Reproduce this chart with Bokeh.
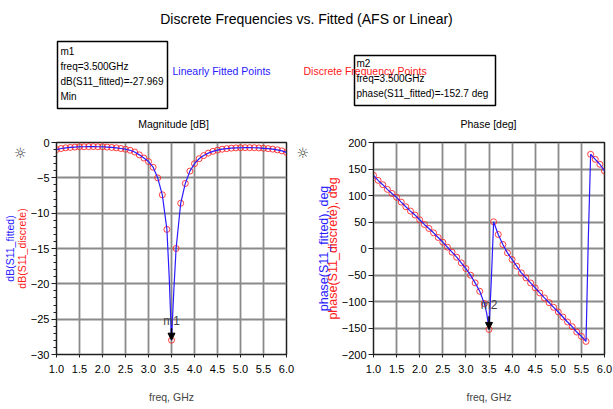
from bokeh.plotting import figure
from bokeh.layouts import column, row
from bokeh.models import (LinearAxis, FixedTicker, Range1d, Label, Arrow,
                          NormalHead, PrintfTickFormatter)
from bokeh.embed import file_html
from bokeh.resources import INLINE

# ---------------- data ----------------
freq = [1.0, 1.1, 1.2, 1.3, 1.4, 1.5, 1.6, 1.7, 1.8, 1.9,
        2.0, 2.1, 2.2, 2.3, 2.4, 2.5, 2.6, 2.7, 2.8, 2.9,
        3.0, 3.1, 3.2, 3.3, 3.4, 3.5, 3.6, 3.7, 3.8, 3.9,
        4.0, 4.1, 4.2, 4.3, 4.4, 4.5, 4.6, 4.7, 4.8, 4.9,
        5.0, 5.1, 5.2, 5.3, 5.4, 5.5, 5.6, 5.7, 5.8, 5.9, 6.0]

mag_db = [-1.0, -0.85, -0.75, -0.7, -0.65, -0.6, -0.6, -0.58, -0.58, -0.6,
          -0.6, -0.65, -0.7, -0.75, -0.85, -0.95, -1.1, -1.35, -1.75, -2.2,
          -2.7, -3.5, -5.0, -7.4, -12.3, -27.969, -15.0, -8.6, -5.8, -4.05,
          -3.0, -2.3, -1.85, -1.5, -1.25, -1.08, -0.95, -0.87, -0.8, -0.76,
          -0.74, -0.73, -0.73, -0.74, -0.77, -0.82, -0.87, -0.94, -1.04, -1.18, -1.4]

phase_deg = [138.0, 128.6, 120.4, 111.6, 103.9, 96.5, 87.6, 78.8, 70.6, 63.1,
             54.2, 45.4, 37.8, 29.6, 20.8, 11.9, 2.5, -6.9, -16.4, -27.1,
             -37.8, -50.4, -64.9, -80.7, -104.0, -152.7, 50.4, 26.5, 7.6, -8.2,
             -20.8, -33.4, -46.0, -55.5, -65.0, -74.4, -83.9, -93.3, -102.1, -111.0,
             -119.8, -129.3, -138.7, -147.5, -157.6, -165.8, -175.3, 177.8, 168.3, 158.9, 146.3]

# extra points of the fitted (dense) curves
mag_fit_extra_freq = [3.45, 3.55]
mag_fit_extra = [-19.0, -21.0]
phase_fit_extra_freq = [3.45, 3.55, 5.65]
phase_fit_extra = [-122.0, -60.0, 20.0]

x_ticks = [1.0, 1.5, 2.0, 2.5, 3.0, 3.5, 4.0, 4.5, 5.0, 5.5, 6.0]
mag_ticks = [0, -5, -10, -15, -20, -25, -30]
phase_ticks = [200, 150, 100, 50, 0, -50, -100, -150, -200]

marker_freq = 3.5
m1_value = -27.969
m2_value = -152.7

FONT = "Liberation Sans"
BLUE = "#2a1aff"
RED = "#ff2020"
SUN = "\u263c"
SUN_AT = -1.5   # vertical placement of the sun icons on the dB scale

fit_mag = sorted(zip(freq + mag_fit_extra_freq, mag_db + mag_fit_extra))
fit_phase = sorted(zip(freq + phase_fit_extra_freq, phase_deg + phase_fit_extra))

# ---------------- header ----------------
W, HH = 613, 130
hdr = figure(width=W, height=HH, x_range=Range1d(0, W), y_range=Range1d(HH, 0),
             output_backend="svg", toolbar_location=None, min_border=0)
hdr.axis.visible = False
hdr.grid.visible = False
hdr.outline_line_color = None


def htext(x, y, t, size="10px", color="black", align="left"):
    hdr.add_layout(Label(x=x, y=y, text=t, text_font=FONT, text_font_size=size,
                         text_color=color, text_align=align, text_baseline="middle"))


htext(306, 18, "Discrete Frequencies vs. Fitted (AFS or Linear)", size="14px", align="center")
hdr.quad(left=[57], right=[167], top=[41], bottom=[108], fill_color=None,
         line_color="black", line_width=1.5)
for yy, t in zip([51, 66, 81, 96], ["m1", "freq=3.500GHz", "dB(S11_fitted)=-27.969", "Min"]):
    htext(60, yy, t)
htext(172, 70, "Linearly Fitted Points", size="10.5px", color=BLUE)
hdr.quad(left=[354], right=[495], top=[55], bottom=[105], fill_color=None,
         line_color="black", line_width=1.5)
htext(303, 70, "Discrete Frequency Points", size="10.5px", color=RED)
for yy, t in zip([63, 78, 93], ["m2", "freq=3.500GHz", "phase(S11_fitted)=-152.7 deg"]):
    htext(356, yy, t)
htext(173, 123, "Magnitude [dB]", size="10.5px", align="center")
htext(488, 123, "Phase [deg]", size="10.5px", align="center")


# ---------------- plots ----------------
def make_plot(width, left_border, right_border, yr, yticks, minor, lab_fit, lab_disc,
              fx, fy, dx, dy, lab_size, inner_standoff, outer_standoff, sun=False):
    p = figure(width=width, height=279, x_range=Range1d(1, 6), y_range=Range1d(*yr),
               output_backend="svg", toolbar_location=None,
               min_border_left=left_border, min_border_right=right_border,
               min_border_top=12, min_border_bottom=55)
    p.xaxis.ticker = FixedTicker(ticks=x_ticks)
    p.xaxis.formatter = PrintfTickFormatter(format="%.1f")
    p.yaxis.ticker = FixedTicker(ticks=yticks, minor_ticks=minor)
    for ax in (p.xaxis[0], p.yaxis[0]):
        ax.major_label_text_font = FONT
        ax.major_label_text_font_size = "11px"
        ax.major_label_text_color = "black"
        ax.axis_line_color = "#202020"
        ax.major_tick_line_color = "#202020"
        ax.minor_tick_line_color = "#202020"
        ax.major_tick_in = 0
        ax.minor_tick_in = 0
        ax.minor_tick_out = 3
        ax.major_tick_out = 5
        ax.major_label_standoff = 2
    p.xaxis.major_tick_out = 3
    p.xaxis.major_label_standoff = 7
    p.xaxis.axis_label = "freq, GHz"
    p.xaxis.axis_label_text_font = FONT
    p.xaxis.axis_label_text_font_size = "10.5px"
    p.xaxis.axis_label_text_font_style = "normal"
    p.xaxis.axis_label_standoff = 15
    ya = p.yaxis[0]
    ya.axis_label = lab_disc
    ya.axis_label_text_color = RED
    ya.axis_label_text_font = FONT
    ya.axis_label_text_font_size = lab_size
    ya.axis_label_text_font_style = "normal"
    ya.axis_label_standoff = inner_standoff
    outer = LinearAxis(ticker=FixedTicker(ticks=[SUN_AT] if sun else []),
                       major_label_overrides={SUN_AT: SUN} if sun else {},
                       major_label_text_font="DejaVu Sans", major_label_text_font_size="14px",
                       major_label_text_color="#333333", major_label_orientation="horizontal",
                       axis_label=lab_fit,
                       axis_line_color=None, major_tick_line_color=None,
                       minor_tick_line_color=None, major_tick_out=0, minor_tick_out=0,
                       major_tick_in=0, minor_tick_in=0,
                       major_label_standoff=-14 if sun else 0,
                       axis_label_standoff=outer_standoff,
                       axis_label_text_color=BLUE, axis_label_text_font=FONT,
                       axis_label_text_font_size=lab_size,
                       axis_label_text_font_style="normal")
    p.add_layout(outer, "left")
    p.grid.grid_line_color = "#8a8a8a"
    p.grid.grid_line_width = 1.8
    p.outline_line_color = "#202020"
    p.outline_line_width = 1.5
    p.scatter(dx, dy, marker="circle", size=6, fill_color=None,
              line_color=RED, line_width=1, line_alpha=0.85)
    p.line(fx, fy, line_color=BLUE, line_width=1.2)
    return p


# left border of the magnitude plot is sized by its axes (tight layout)
p1 = make_plot(312, 0, 23, (-30, 0), mag_ticks, [v for v in range(0, -31, -1)],
               "dB(S11_fitted)", "dB(S11_discrete)",
               [a for a, b in fit_mag], [b for a, b in fit_mag], freq, mag_db,
               "10.5px", 0, -5, sun=True)
p2 = make_plot(301, 61, 9, (-200, 200), phase_ticks, [],
               "phase(S11_fitted), deg", "phase(S11_discrete), deg",
               [a for a, b in fit_phase], [b for a, b in fit_phase], freq, phase_deg,
               "12.5px", -1, -8)

# sun icon right of the magnitude plot, drawn as a tick label of a bare right axis
p1.add_layout(LinearAxis(ticker=FixedTicker(ticks=[SUN_AT]), major_label_overrides={SUN_AT: SUN},
                         major_label_text_font="DejaVu Sans", major_label_text_font_size="14px",
                         major_label_text_color="#333333", axis_line_color=None,
                         major_tick_line_color=None, minor_tick_line_color=None,
                         major_tick_out=0, major_tick_in=0, minor_tick_out=0, minor_tick_in=0,
                         major_label_standoff=10), "right")

# markers m1 / m2
p1.add_layout(Arrow(end=NormalHead(size=7, fill_color="black", line_color="black"),
                    x_start=marker_freq, y_start=-26.3, x_end=marker_freq, y_end=m1_value,
                    line_color="black", line_width=1.5))
p1.add_layout(Label(x=marker_freq, y=-25.3, text="m1", text_font=FONT, text_font_size="12px",
                    text_align="center", text_baseline="middle"))
p2.add_layout(Arrow(end=NormalHead(size=7, fill_color="black", line_color="black"),
                    x_start=marker_freq, y_start=-128, x_end=marker_freq, y_end=m2_value,
                    line_color="black", line_width=1.5))
p2.add_layout(Label(x=marker_freq, y=-107, text="m2", text_font=FONT, text_font_size="12px",
                    text_align="center", text_baseline="middle"))

layout = column(hdr, row(p1, p2))
open("out.html", "w").write(file_html(layout, INLINE))
